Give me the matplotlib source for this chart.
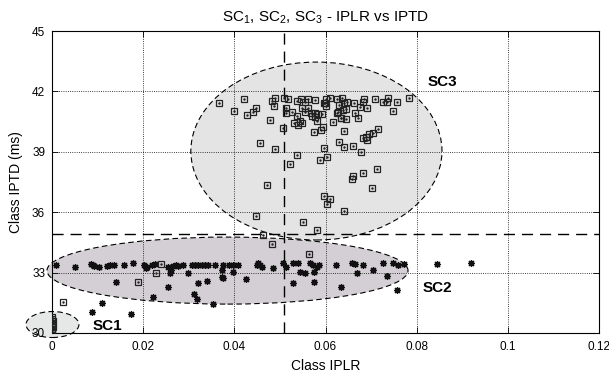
import numpy as np
import matplotlib
matplotlib.use("Agg")
import matplotlib.pyplot as plt
from matplotlib.patches import Ellipse

plt.rcParams['font.family'] = ['Liberation Sans', 'DejaVu Sans']
plt.rcParams['mathtext.fontset'] = 'custom'
plt.rcParams['mathtext.rm'] = 'Liberation Sans'
plt.rcParams['mathtext.it'] = 'Liberation Sans:italic'

# squares (SC3 class, plus a few stragglers)
sq_x = [0.03664, 0.04219, 0.03999, 0.04284, 0.04403, 0.04475, 0.04782, 0.04826, 0.04892, 0.04870,
        0.05090, 0.05074, 0.04563, 0.04886, 0.05184, 0.05133, 0.05258, 0.05368, 0.05456, 0.05478,
        0.05381, 0.05309, 0.05403, 0.05478, 0.05441, 0.05550, 0.05609, 0.05609, 0.05675, 0.05697,
        0.05770, 0.05770, 0.05807, 0.05842, 0.05930, 0.05974, 0.06004, 0.06099, 0.05952, 0.05901,
        0.05754, 0.06259, 0.06171, 0.06259, 0.06355, 0.06303, 0.06391, 0.06413, 0.06465, 0.06333,
        0.06443, 0.06413, 0.06632, 0.06647, 0.06706, 0.06757, 0.06851, 0.06829, 0.06904, 0.07086,
        0.07268, 0.07378, 0.07356, 0.07487, 0.07562, 0.07832, 0.07158, 0.07035, 0.06961, 0.06882,
        0.06904, 0.06829, 0.06303, 0.06413, 0.06610, 0.06772, 0.05967, 0.06026, 0.05879, 0.05368,
        0.05221, 0.07136, 0.06829, 0.06597, 0.06575, 0.07020, 0.04710, 0.05967, 0.06099, 0.06033,
        0.06406, 0.04475, 0.05500, 0.05820, 0.04636, 0.04826, 0.05638, 0.02391, 0.02282, 0.01887,
        0.00235, 0.05989, 0.06011, 0.06450, 0.06281, 0.06340, 0.05770, 0.05140, 0.05550]
sq_y = [41.41, 41.61, 41.03, 40.83, 40.99, 41.16, 40.58, 41.54, 41.66, 41.28,
        41.69, 40.20, 39.42, 39.13, 41.62, 41.19, 40.96, 41.54, 41.62, 41.16,
        40.79, 40.45, 40.33, 40.42, 40.53, 41.49, 41.62, 41.16, 40.91, 40.78,
        40.91, 41.57, 40.53, 40.86, 40.86, 41.44, 41.61, 41.66, 40.25, 40.09,
        40.00, 40.94, 40.50, 41.61, 41.69, 41.33, 41.08, 41.44, 41.49, 40.67,
        40.62, 40.03, 41.41, 40.91, 40.70, 41.24, 41.61, 41.49, 41.16, 41.62,
        41.49, 41.66, 41.49, 41.04, 41.49, 41.66, 40.12, 39.92, 39.89, 39.75,
        39.59, 39.70, 39.50, 39.25, 39.30, 39.01, 39.21, 38.73, 38.59, 38.84,
        38.38, 38.16, 37.96, 37.80, 37.64, 37.22, 37.34, 36.82, 36.67, 36.39,
        36.08, 35.81, 35.51, 35.12, 34.87, 34.42, 33.92, 33.43, 32.98, 32.53,
        31.55, 41.41, 41.29, 41.13, 40.99, 40.67, 40.75, 40.95, 41.00]

# SC1 cluster at the origin
sc1_x = [0.0, 0.0001, 0.0, 0.0002, 0.0001, 0.0, 0.0001, 0.0002, 0.0, 0.0001]
sc1_y = [30.05, 30.12, 30.20, 30.28, 30.35, 30.45, 30.52, 30.60, 30.70, 30.80]

# asterisks (SC2 class)
st_x = [0.00081, 0.00505, 0.00856, 0.00893, 0.00928, 0.01038, 0.01200, 0.01272, 0.01360, 0.01586,
        0.01770, 0.02018, 0.02091, 0.02062, 0.02187, 0.02260, 0.02538, 0.02604, 0.02589, 0.02661,
        0.02720, 0.02771, 0.02867, 0.02990, 0.03065, 0.03137, 0.03210, 0.03284, 0.03357, 0.03429,
        0.03576, 0.03758, 0.03723, 0.03736, 0.03758, 0.03890, 0.03964, 0.04087, 0.03964, 0.01404,
        0.02551, 0.03196, 0.03394, 0.03115, 0.03174, 0.02209, 0.01090, 0.03525, 0.04249, 0.00884,
        0.01733, 0.04526, 0.04563, 0.04607, 0.04491, 0.04855, 0.05061, 0.05133, 0.05280, 0.05294,
        0.05403, 0.05441, 0.05550, 0.05660, 0.05732, 0.05807, 0.05864, 0.05748, 0.05754, 0.06224,
        0.06340, 0.06575, 0.06647, 0.06816, 0.06684, 0.07035, 0.07255, 0.07487, 0.07597, 0.07729,
        0.07343, 0.07562, 0.08440, 0.09185]
st_y = [33.38, 33.29, 33.43, 33.38, 33.33, 33.26, 33.33, 33.38, 33.38, 33.38,
        33.46, 33.38, 33.29, 33.21, 33.38, 33.43, 33.29, 33.13, 33.00, 33.33,
        33.38, 33.33, 33.38, 32.97, 33.38, 33.38, 33.38, 33.38, 33.38, 33.38,
        33.38, 33.38, 33.13, 32.80, 32.72, 33.38, 33.38, 33.38, 33.05, 32.52,
        32.30, 32.50, 32.58, 31.94, 31.69, 31.80, 31.51, 31.44, 32.67, 31.03,
        30.93, 33.46, 33.38, 33.30, 33.38, 33.21, 33.46, 33.29, 32.47, 33.46,
        33.46, 33.05, 33.00, 33.46, 33.38, 33.29, 33.38, 33.05, 32.55, 33.38,
        32.30, 33.46, 33.41, 33.38, 32.97, 33.13, 33.46, 33.46, 33.38, 33.41,
        32.83, 32.14, 33.41, 33.49]

# cluster regions: name, centre, width, height, fill
clusters = [("SC1", (0.0001, 30.42), 0.0116, 1.29, '#e6e8e8'),
            ("SC2", (0.0385, 33.10), 0.0792, 3.33, '#d4cfd4'),
            ("SC3", (0.0580, 39.04), 0.0551, 8.84, '#e4e4e4')]
label_pos = {"SC1": (0.0088, 30.35), "SC2": (0.0814, 32.24), "SC3": (0.0825, 42.47)}

x_split = 0.0509
y_split = 34.92

xticks = [0, 0.02, 0.04, 0.06, 0.08, 0.1, 0.12]
xticklabels = ['0', '0.02', '0.04', '0.06', '0.08', '0.1', '0.12']
yticks = [30, 33, 36, 39, 42, 45]

fig = plt.figure(figsize=(6.09, 3.79), dpi=100)
ax = fig.add_axes([0.0854, 0.1214, 0.8982, 0.7966])

for name, c, w, h, fc in clusters:
    e = Ellipse(c, w, h, facecolor=fc, edgecolor='black', linestyle=(0, (5, 3)),
                linewidth=0.8, clip_on=False, zorder=1)
    ax.add_patch(e)
    ax.text(*label_pos[name], name, fontsize=11, fontweight='bold', ha='left', va='center')

ax.axvline(x_split, color='black', linestyle=(0, (8, 5)), linewidth=1.0, zorder=1.6)
ax.axhline(y_split, color='black', linestyle=(0, (8, 5)), linewidth=1.0, zorder=1.6)

ax.plot(st_x, st_y, linestyle='none', marker=(8, 2, 0), markersize=5, color='#111111',
        markeredgewidth=0.9, zorder=3)
ax.plot(sq_x + sc1_x, sq_y + sc1_y, linestyle='none', marker='s', markersize=5,
        markerfacecolor='none', markeredgecolor='#222222', markeredgewidth=0.9, zorder=3)
ax.plot(sq_x + sc1_x, sq_y + sc1_y, linestyle='none', marker='.', markersize=1.5,
        color='#222222', zorder=3)

ax.set_xlim(0, 0.12)
ax.set_ylim(30, 45)
ax.set_xticks(xticks)
ax.set_xticklabels(xticklabels)
ax.set_yticks(yticks)
ax.set_axisbelow('line')
ax.grid(True, linestyle=':', color='black', linewidth=0.6)
ax.tick_params(direction='in', top=True, right=True, length=4, width=0.6, labelsize=8.5)
ax.tick_params(axis='x', pad=6)
ax.tick_params(axis='y', pad=5)
for s in ax.spines.values():
    s.set_linewidth(0.8)

ax.set_xlabel('Class IPLR', fontsize=10, labelpad=4)
ax.set_ylabel('Class IPTD (ms)', fontsize=10, labelpad=6)
ax.set_title(r'SC$\mathrm{_1}$, SC$\mathrm{_2}$, SC$\mathrm{_3}$ - IPLR vs IPTD', fontsize=11, pad=7)

fig.savefig('out.png', dpi=100)
